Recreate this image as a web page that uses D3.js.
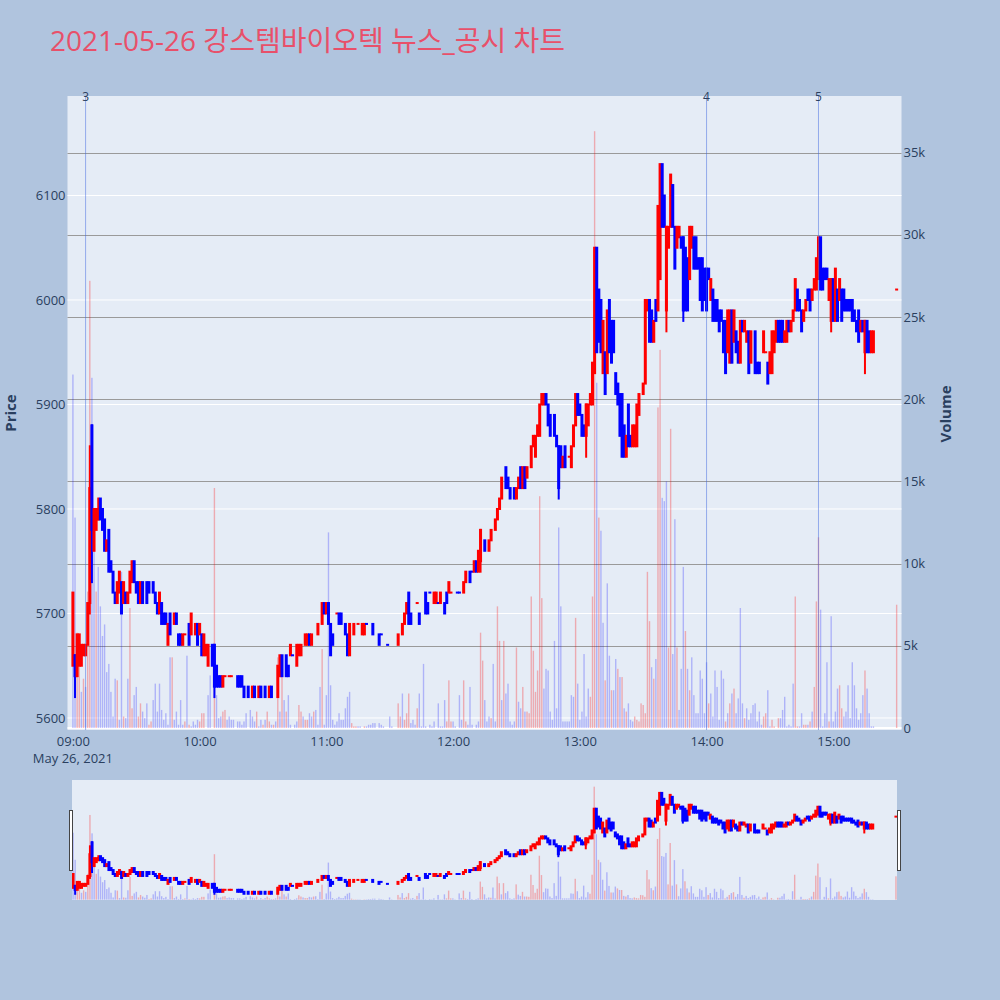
<!DOCTYPE html>
<html><head><meta charset="utf-8">
<script src="https://cdn.jsdelivr.net/npm/d3@7"></script>
<style>
html,body{margin:0;padding:0;background:#b0c4de;}
svg{display:block;font-family:"Open Sans","Noto Sans CJK KR",sans-serif;}
</style>
</head><body>
<svg id="c" width="1000" height="1000"></svg>
<script>
// ---------------- data ----------------
const chartTitle = "2021-05-26 강스템바이오텍 뉴스_공시 차트";
const tradeDate = [2021, 5, 26];
const timeTicks = ["09:00","10:00","11:00","12:00","13:00","14:00","15:00"];
const priceTicks = [5600, 5700, 5800, 5900, 6000, 6100];
const volumeTicks = [0, 5000, 10000, 15000, 20000, 25000, 30000, 35000];
// news markers: [minutes after 09:00, label]
const newsMarks = [[6, "3"], [300, "4"], [353, "5"]];
// candles: [minutes after 09:00, open, high, low, close, (colour for flat candles: 1 up / 0 down)]
const candles = [
[0,5650,5720,5650,5720],[1,5660,5660,5620,5640],[2,5640,5680,5640,5680],[3,5650,5680,5650,5680],
[4,5650,5670,5650,5670],[5,5660,5670,5660,5670],[6,5660,5670,5660,5670],[7,5670,5710,5670,5710],
[8,5710,5860,5700,5820],[9,5880,5880,5730,5780],[10,5760,5800,5760,5800],[11,5780,5800,5780,5800],
[12,5790,5810,5790,5800],[13,5810,5810,5790,5790],[14,5800,5800,5780,5780],[15,5790,5790,5760,5760],
[16,5760,5770,5760,5770],[17,5780,5780,5740,5740],[18,5750,5750,5740,5740],[19,5740,5740,5720,5720],
[20,5720,5720,5710,5710],[21,5710,5730,5710,5730],[22,5720,5740,5720,5740],[23,5730,5730,5700,5700],
[24,5710,5730,5710,5730],[25,5720,5720,5710,5710],[26,5710,5720,5710,5720],[27,5720,5740,5720,5740],
[28,5730,5750,5730,5750],[29,5750,5750,5730,5730],[30,5730,5730,5720,5720],[31,5730,5730,5710,5710],
[32,5710,5730,5710,5730],[33,5730,5730,5710,5710],[35,5730,5730,5710,5710],[36,5730,5730,5720,5720],
[38,5730,5730,5720,5720],[39,5720,5720,5710,5710],[40,5710,5710,5700,5700],[41,5700,5720,5700,5720],
[42,5710,5710,5690,5690],[43,5700,5700,5690,5690],[44,5700,5700,5690,5690],[45,5670,5690,5670,5690],
[46,5700,5700,5680,5680],[48,5690,5700,5690,5700],[49,5700,5700,5690,5690],[50,5680,5680,5670,5670],
[51,5680,5680,5670,5670],[52,5670,5680,5670,5680],[53,5680,5680,5680,5680,1],[55,5690,5690,5670,5670],
[56,5680,5700,5680,5700],[58,5680,5690,5680,5690],[59,5690,5690,5670,5670],[60,5680,5690,5680,5690],
[61,5680,5680,5660,5660],[62,5660,5680,5660,5680],[63,5660,5670,5660,5670],[64,5650,5670,5650,5670],
[66,5670,5670,5650,5650],[67,5670,5670,5620,5630],[68,5650,5650,5630,5630],[69,5640,5640,5630,5630],
[70,5640,5640,5630,5630],[71,5630,5640,5630,5640],[72,5640,5640,5640,5640,1],[74,5640,5640,5640,5640,1],
[75,5640,5640,5640,5640,1],[78,5640,5640,5630,5630],[79,5640,5640,5630,5630],[80,5640,5640,5630,5630],
[81,5630,5630,5620,5620],[83,5630,5630,5620,5620],[85,5620,5630,5620,5630],[86,5630,5630,5620,5620],
[88,5620,5630,5620,5630],[89,5630,5630,5620,5620],[91,5630,5630,5620,5620],[93,5620,5630,5620,5630],
[94,5630,5630,5620,5620],[97,5620,5650,5620,5650],[98,5640,5660,5640,5660],[99,5660,5660,5640,5640],
[101,5660,5660,5640,5640],[102,5650,5650,5640,5640],[103,5660,5670,5660,5670],[104,5660,5660,5660,5660,0],
[106,5650,5670,5650,5670],[107,5660,5670,5660,5670],[108,5660,5670,5660,5670],[110,5670,5680,5670,5680],
[111,5670,5680,5670,5680],[112,5680,5680,5670,5670],[113,5670,5680,5670,5680],[116,5680,5690,5680,5690],
[118,5690,5710,5690,5710],[119,5710,5710,5700,5700],[120,5700,5710,5700,5710],[121,5710,5710,5690,5690],
[122,5690,5690,5660,5660],[123,5680,5680,5670,5670],[125,5700,5700,5700,5700,1],[126,5700,5700,5690,5690],
[127,5700,5700,5690,5690],[129,5690,5690,5680,5680],[130,5680,5680,5660,5660],[131,5660,5690,5660,5690],
[133,5680,5690,5680,5690],[135,5690,5690,5690,5690,1],[137,5680,5690,5680,5690],[138,5680,5690,5680,5690],
[139,5690,5690,5690,5690,0],[142,5690,5690,5680,5680],[145,5680,5680,5670,5670],[146,5680,5680,5680,5680,0],
[149,5670,5670,5670,5670,0],[154,5670,5680,5670,5680],[156,5680,5690,5680,5690],[157,5690,5700,5690,5700],
[158,5700,5710,5700,5710],[159,5720,5720,5690,5690],[160,5700,5700,5690,5690],[163,5710,5710,5710,5710,1],
[164,5700,5700,5690,5690],[167,5720,5720,5700,5700],[168,5710,5710,5700,5700],[169,5720,5720,5720,5720,0],
[171,5710,5720,5710,5720],[172,5710,5720,5710,5720],[173,5710,5710,5710,5710,0],[174,5710,5720,5710,5720],
[176,5710,5710,5700,5700],[177,5720,5720,5710,5710],[178,5720,5730,5720,5730],[179,5720,5720,5720,5720,1],
[182,5720,5720,5720,5720,0],[183,5720,5720,5720,5720,0],[185,5720,5730,5720,5730],[186,5730,5740,5730,5740],
[188,5740,5740,5730,5730],[189,5740,5740,5740,5740,0],[190,5740,5750,5740,5750],[191,5750,5750,5740,5740],
[192,5740,5760,5740,5760],[193,5750,5780,5740,5780],[195,5770,5770,5760,5760],[197,5760,5770,5760,5770],
[198,5770,5780,5770,5780],[200,5780,5790,5780,5790],[201,5790,5800,5790,5800],[202,5800,5810,5800,5810],
[203,5810,5830,5810,5830],[205,5840,5840,5820,5820],[206,5830,5830,5820,5820],[207,5820,5820,5810,5810],
[209,5820,5820,5810,5810],[210,5810,5820,5810,5820],[211,5820,5830,5820,5830],[212,5840,5840,5820,5820],
[213,5820,5840,5820,5840],[214,5840,5840,5820,5820],[215,5830,5840,5830,5840],[217,5840,5860,5840,5860],
[218,5860,5870,5860,5870],[219,5850,5870,5850,5870],[220,5870,5880,5870,5880],[221,5870,5900,5870,5900],
[222,5900,5910,5900,5910],[223,5900,5910,5900,5910],[224,5910,5910,5900,5900],[225,5900,5900,5880,5880],
[226,5890,5890,5870,5870],[228,5890,5890,5870,5870],[229,5870,5870,5860,5860],[230,5860,5860,5810,5820],
[231,5860,5860,5840,5840],[232,5840,5850,5840,5850],[233,5860,5860,5840,5840],[235,5850,5850,5850,5850,1],
[236,5840,5860,5840,5860],[237,5860,5880,5860,5880],[238,5880,5910,5880,5910],[239,5910,5910,5890,5890],
[240,5900,5900,5890,5890],[241,5890,5890,5870,5870],[242,5880,5880,5870,5870],[243,5870,5900,5850,5900],
[244,5880,5900,5880,5900],[245,5900,5910,5900,5910],[246,5900,5940,5900,5940],[247,5930,6050,5930,6050],
[248,6050,6050,5950,5950],[249,6010,6010,5960,5960],[250,6000,6000,5950,5950],[251,5930,5980,5930,5980],
[252,5950,5950,5910,5910],[253,5930,5990,5930,5990],[254,6000,6000,5950,5950],[255,5980,5980,5940,5940],
[256,5980,5980,5950,5950],[257,5930,5930,5910,5910],[258,5920,5920,5900,5900],[259,5910,5910,5870,5870],
[260,5910,5910,5850,5850],[261,5880,5880,5850,5850],[262,5850,5870,5850,5870],[263,5900,5900,5860,5860],
[264,5870,5870,5860,5860],[265,5860,5880,5860,5880],[266,5860,5880,5860,5880],[267,5860,5900,5860,5900],
[268,5890,5910,5890,5910],[270,5910,5920,5910,5920],[271,5920,6000,5920,6000],[272,5990,6000,5990,6000],
[273,6000,6000,5960,5960],[274,5990,5990,5960,5960],[275,5960,5980,5960,5980],[276,6000,6000,5980,5980],
[277,5990,6090,5990,6090],[278,6020,6130,6020,6130],[279,6130,6130,6070,6070],[280,6100,6100,6070,6070],
[281,5990,6070,5970,6070],[282,6050,6070,6050,6070],[283,6070,6120,6070,6120],[284,6110,6110,6070,6070],
[285,6070,6070,6030,6030],[286,6050,6070,6050,6070],[287,6060,6070,6060,6070],[288,6060,6060,6050,6050],
[289,6060,6060,5980,5990],[290,6050,6050,5990,5990],[291,6040,6040,5990,5990],[292,6020,6070,6020,6070],
[293,6050,6070,6050,6070],[294,6060,6060,6030,6030],[295,6060,6060,6030,6030],[296,6040,6040,6030,6030],
[297,6040,6040,6000,6000],[298,6040,6040,5990,5990],[299,6030,6030,6000,6000],[300,6030,6030,5990,5990],
[301,6030,6030,6020,6020],[302,6000,6020,6000,6020],[303,6010,6010,5980,5980],[304,6000,6000,5980,5980],
[305,6000,6000,5980,5980],[306,5990,5990,5970,5970],[307,5990,5990,5980,5980],[308,5980,5980,5950,5950],
[309,5980,5980,5930,5930],[310,5950,5990,5950,5990],[311,5940,5990,5940,5990],[312,5990,5990,5940,5940],
[313,5960,5990,5960,5990],[314,5970,5970,5950,5950],[315,5960,5960,5940,5940],[316,5940,5980,5940,5980],
[317,5980,5980,5970,5970],[318,5970,5980,5970,5980],[319,5960,5970,5960,5970],[320,5970,5970,5930,5930],
[321,5940,5970,5940,5970],[323,5970,5970,5930,5930],[324,5940,5940,5930,5930],[325,5940,5940,5930,5930],
[327,5950,5970,5950,5970],[328,5950,5950,5950,5950,1],[329,5940,5940,5920,5920],[330,5930,5950,5930,5950],
[331,5930,5970,5930,5970],[332,5950,5970,5950,5970],[333,5960,5980,5960,5980],[334,5980,5980,5960,5960],
[335,5980,5980,5960,5960],[336,5980,5980,5960,5960],[337,5960,5970,5960,5970],[338,5960,5980,5960,5980],
[339,5980,5980,5970,5970],[340,5970,5980,5970,5980],[341,5980,5990,5980,5990],[342,5990,6020,5990,6020],
[343,6010,6010,5990,5990],[344,6000,6000,5990,5990],[345,5990,5990,5970,5970],[346,5980,5990,5980,5990],
[347,5990,6000,5990,6000],[348,6010,6010,6000,6000],[349,6010,6010,5990,5990],[350,6000,6010,6000,6010],
[351,6010,6020,6010,6020],[352,6010,6040,6010,6040],[353,6020,6060,6020,6060],[354,6060,6060,6010,6010],
[355,6030,6030,6010,6010],[356,6030,6030,6020,6020],[357,6030,6030,6020,6020],[358,6000,6020,6000,6020],
[359,5980,6020,5970,6020],[360,6020,6020,5980,5980],[361,5980,6030,5980,6030],[362,6010,6010,5980,5980],
[363,6000,6020,6000,6020],[364,6010,6010,5980,5980],[365,6010,6010,5990,5990],[366,6000,6000,5990,5990],
[367,6000,6000,5990,5990],[368,6000,6000,5990,5990],[369,6000,6000,5980,5980],[370,5990,5990,5980,5980],
[371,5980,5980,5970,5970],[372,5990,5990,5960,5960],[373,5970,5980,5970,5980],[374,5980,5980,5970,5970],
[375,5950,5980,5930,5980],[376,5980,5980,5950,5950],[377,5970,5970,5950,5950],[378,5950,5970,5950,5970],
[379,5950,5970,5950,5970],[390,6010,6010,6010,6010,1]
];
// volumes: [minutes after 09:00, shares, 1 up / 0 down]
const volumes = [
[0,21500,0],[1,12800,0],[2,5800,1],[3,5600,1],[4,2200,0],[5,3000,1],[6,2500,0],[7,8300,1],[8,27200,1],
[9,21300,0],[10,11000,0],[11,8300,1],[12,9800,0],[13,7400,0],[14,5600,0],[15,6300,0],[16,3400,0],
[17,3900,0],[18,2200,0],[19,700,0],[20,3000,0],[21,2900,1],[22,500,0],[23,9500,0],[24,700,1],
[25,600,0],[26,3000,0],[27,7300,1],[28,1200,1],[29,2000,0],[30,2500,0],[31,700,1],[32,1500,1],
[33,1000,0],[34,600,0],[35,1500,0],[36,200,1],[37,400,1],[38,1700,0],[39,2700,0],[40,1000,0],
[41,2700,0],[42,1100,0],[43,500,0],[44,900,0],[45,200,0],[46,4300,0],[47,4300,1],[48,500,0],
[49,1000,0],[50,200,0],[51,1700,0],[52,200,0],[53,400,1],[54,4400,0],[55,200,1],[56,100,0],
[57,400,0],[58,200,0],[59,500,0],[60,400,1],[61,900,1],[62,900,1],[64,2000,0],[65,3200,0],
[67,14600,1],[68,2000,0],[69,600,0],[70,700,0],[71,1000,1],[72,1100,1],[73,500,0],[74,700,0],
[75,500,0],[76,500,0],[78,400,0],[79,400,0],[80,200,0],[81,400,0],[82,900,0],[84,1100,0],
[85,700,0],[86,400,0],[87,1000,1],[88,100,0],[89,500,0],[90,200,1],[91,500,0],[92,1000,1],
[93,400,1],[94,200,0],[95,200,1],[96,400,0],[97,4300,1],[98,1000,0],[99,4300,1],[100,1700,0],
[101,1000,1],[102,2000,0],[103,200,0],[105,200,0],[106,400,0],[107,1400,1],[108,1000,1],[109,700,0],
[110,500,1],[111,500,1],[112,900,0],[113,700,0],[114,1000,1],[115,1100,0],[116,200,0],[117,2500,0],
[118,4800,1],[119,200,0],[120,2000,0],[121,11900,0],[122,2600,0],[123,500,0],[124,200,0],[125,400,0],
[126,900,0],[127,500,0],[128,500,0],[129,1200,0],[130,1900,0],[131,2200,0],[132,300,1],[133,100,1],
[134,100,1],[135,100,0],[136,100,0],[138,100,1],[139,100,0],[140,200,0],[141,200,0],[142,300,0],
[143,300,0],[145,300,0],[146,200,0],[147,100,0],[150,700,0],[151,100,0],[154,1500,1],[155,700,1],
[156,2100,0],[157,500,1],[158,900,1],[159,2100,1],[160,300,0],[161,500,0],[162,200,0],[163,1200,1],
[164,2100,0],[165,100,0],[166,3900,0],[167,100,0],[169,200,0],[170,100,0],[171,400,0],[173,1500,0],
[174,100,0],[175,100,0],[176,1700,0],[177,400,1],[178,2900,1],[179,400,1],[180,400,0],[181,100,0],
[183,2000,0],[184,500,0],[185,2900,1],[186,400,1],[187,200,0],[188,2500,0],[189,200,0],[191,200,0],
[192,400,0],[193,5800,1],[194,4100,1],[195,1700,0],[196,400,0],[197,700,0],[198,600,1],[199,3900,0],
[200,400,0],[201,7400,1],[202,5300,1],[203,1700,0],[204,5300,1],[205,2100,0],[206,2700,0],[207,400,0],
[208,200,0],[209,400,0],[210,4900,1],[211,1600,0],[212,1200,0],[213,2500,1],[214,1000,0],[215,1000,1],
[216,900,1],[217,8000,1],[218,4700,1],[219,2200,1],[220,3500,1],[221,14100,1],[222,7900,1],[223,2400,0],
[224,3600,0],[225,3500,0],[226,1000,0],[227,500,0],[228,5300,0],[229,1200,0],[230,12200,0],[231,7400,0],
[232,400,0],[233,400,0],[234,400,0],[235,400,0],[236,2000,0],[237,1900,0],[238,6700,1],[239,2700,0],
[240,500,0],[241,1000,0],[242,4500,0],[243,700,0],[244,2400,0],[245,1900,1],[246,8000,1],[247,36300,1],
[248,21000,0],[249,12800,1],[250,12000,0],[251,6400,0],[252,2900,1],[253,8800,0],[254,4400,0],[255,2300,1],
[256,2300,0],[257,4200,0],[258,3600,1],[259,3100,0],[260,3100,1],[261,1200,0],[262,1000,1],[263,1500,0],
[264,500,0],[265,400,0],[266,700,1],[267,500,1],[268,400,1],[269,1500,1],[270,1400,1],[271,900,1],
[272,9500,1],[273,6500,1],[274,3700,0],[275,3000,1],[276,4200,0],[277,19500,1],[278,23000,1],[279,14000,0],
[280,13800,0],[281,15000,0],[282,4900,1],[283,18200,1],[284,4500,0],[285,12700,0],[286,4900,1],[287,1100,0],
[288,3600,0],[289,9800,0],[290,5900,1],[291,3600,0],[292,2300,1],[293,4300,0],[294,2000,0],[295,900,0],
[296,900,0],[297,3500,0],[298,3000,0],[299,900,0],[300,4000,0],[301,1500,1],[302,2100,0],[303,700,0],
[304,3500,0],[305,2500,0],[306,500,0],[307,3500,0],[308,3000,0],[309,400,1],[310,900,0],[311,1500,1],
[312,2100,0],[313,2400,1],[314,900,0],[315,1800,0],[316,7300,0],[317,1500,0],[318,600,1],[319,1200,0],
[320,500,0],[321,900,0],[322,1400,0],[323,1500,0],[324,400,0],[325,1000,0],[326,200,0],[327,700,1],
[328,900,1],[329,2300,0],[330,100,0],[331,500,1],[332,100,1],[334,600,1],[335,600,0],[336,1100,0],
[337,1900,0],[338,100,0],[339,200,0],[340,100,0],[341,2700,0],[342,8000,1],[343,100,1],[344,100,0],
[345,900,0],[346,200,1],[347,200,1],[348,200,0],[349,400,1],[350,1000,0],[351,2500,1],[352,7700,1],
[353,11600,1],[354,7200,0],[355,100,0],[356,900,0],[357,4000,0],[358,400,1],[359,6800,0],[360,400,0],
[361,1000,0],[362,2400,0],[363,2600,1],[364,1200,1],[365,700,0],[366,1000,0],[367,2600,0],[368,600,0],
[369,4000,0],[370,2600,0],[371,1200,0],[372,500,0],[373,900,0],[374,2000,0],[375,3500,1],[376,2400,0],
[377,900,0],[378,100,0],[379,100,0],[390,7500,1]
];

// ---------------- layout ----------------
const UP = "#ff0000", DOWN = "#0000ff";
const TXT = "#2a3f5f";
const plot = {l: 67.5, r: 901.5, t: 96, b: 730};
const slide = {l: 72, r: 897, t: 780, b: 900};
const t0 = new Date(tradeDate[0], tradeDate[1] - 1, tradeDate[2], 9, 0);
const at = m => new Date(+t0 + m * 60000);
const tick = s => { const [h, mi] = s.split(":").map(Number); return new Date(tradeDate[0], tradeDate[1]-1, tradeDate[2], h, mi); };

const x = d3.scaleTime().domain([at(-2.56), at(392.3)]).range([plot.l, plot.r]);
const yP = d3.scaleLinear().domain([5588.5, 6195.2]).range([plot.b, plot.t]);
const yV = d3.scaleLinear().domain([-120, 38440]).range([plot.b, plot.t]);
const xs = d3.scaleTime().domain([at(-0.5), at(390.5)]).range([slide.l, slide.r]);
const ysP = d3.scaleLinear().domain([5588.5, 6195.2]).range([slide.b, slide.t]);
const ysV = d3.scaleLinear().domain([-120, 38440]).range([slide.b, slide.t]);

const svg = d3.select("#c");
svg.append("rect").attr("width", 1000).attr("height", 1000).attr("fill", "#b0c4de");

// title
svg.append("text").attr("x", 50).attr("y", 51).attr("fill", "#e8506a")
  .style("font-size", "28px").text(chartTitle);

const defs = svg.append("defs");
defs.append("clipPath").attr("id", "cp").append("rect")
  .attr("x", plot.l).attr("y", plot.t).attr("width", plot.r - plot.l).attr("height", plot.b - plot.t);
defs.append("clipPath").attr("id", "cs").append("rect")
  .attr("x", slide.l).attr("y", slide.t).attr("width", slide.r - slide.l).attr("height", slide.b - slide.t);

// main plot background + grids
svg.append("rect").attr("x", plot.l).attr("y", plot.t).attr("width", plot.r - plot.l)
  .attr("height", plot.b - plot.t).attr("fill", "#e5ecf6");
const grid = svg.append("g");
grid.selectAll(".gp").data(priceTicks).join("line")
  .attr("x1", plot.l).attr("x2", plot.r).attr("y1", d => yP(d)).attr("y2", d => yP(d))
  .attr("stroke", "#ffffff").attr("stroke-width", 1);
grid.selectAll(".gv").data(volumeTicks.filter(d => d > 0)).join("line")
  .attr("x1", plot.l).attr("x2", plot.r).attr("y1", d => Math.round(yV(d)) + 0.5).attr("y2", d => Math.round(yV(d)) + 0.5)
  .attr("stroke", "#9a9a9a").attr("stroke-width", 1);
grid.append("line").attr("x1", plot.l).attr("x2", plot.r).attr("y1", yV(0)).attr("y2", yV(0))
  .attr("stroke", "#ffffff").attr("stroke-width", 2);

function drawVolume(g, xsc, ysc, w) {
  g.selectAll("rect.v").data(volumes).join("rect").attr("class", "v")
    .attr("x", d => xsc(at(d[0])) - w / 2).attr("width", w)
    .attr("y", d => ysc(d[1])).attr("height", d => Math.max(0, ysc(0) - ysc(d[1])))
    .attr("fill", d => d[2] ? "rgba(255,0,0,0.28)" : "rgba(0,0,255,0.24)");
}
function drawCandles(g, xsc, ysc, bodyW, wickW) {
  let prevUp = true;
  candles.forEach(r => {
    const [m, o, h, l, c, flat] = r;
    const up = c > o ? true : c < o ? false : (flat !== undefined ? flat === 1 : prevUp);
    prevUp = up;
    const col = up ? UP : DOWN;
    const cx = xsc(at(m));
    const yTop = ysc(Math.max(o, c)), yBot = ysc(Math.min(o, c));
    if (h > Math.max(o, c) || l < Math.min(o, c)) {
      g.append("rect").attr("x", cx - wickW / 2).attr("width", wickW)
        .attr("y", ysc(h) - 1).attr("height", ysc(l) - ysc(h) + 2).attr("fill", col);
    }
    g.append("rect").attr("x", cx - bodyW / 2).attr("width", bodyW)
      .attr("y", yTop - 1).attr("height", yBot - yTop + 2).attr("fill", col);
  });
}

const main = svg.append("g").attr("clip-path", "url(#cp)");
drawVolume(main.append("g"), x, yV, 1.4);
drawCandles(main.append("g"), x, yP, 3, 2);

// news markers
const news = svg.append("g");
news.selectAll("line").data(newsMarks).join("line")
  .attr("x1", d => x(at(d[0]))).attr("x2", d => x(at(d[0])))
  .attr("y1", plot.t).attr("y2", plot.b)
  .attr("stroke", "rgba(65,105,225,0.5)").attr("stroke-width", 1);
news.selectAll("text").data(newsMarks).join("text")
  .attr("x", d => x(at(d[0]))).attr("y", plot.t + 5).attr("text-anchor", "middle")
  .attr("fill", TXT).style("font-size", "12px").text(d => d[1]);

// axes
const ax = svg.append("g").attr("transform", `translate(0,${plot.b})`)
  .call(d3.axisBottom(x).tickValues(timeTicks.map(tick)).tickFormat(d3.timeFormat("%H:%M")).tickSize(0).tickPadding(7));
const ayl = svg.append("g").attr("transform", `translate(${plot.l},0)`)
  .call(d3.axisLeft(yP).tickValues(priceTicks).tickFormat(d3.format("d")).tickSize(0).tickPadding(2));
const ayr = svg.append("g").attr("transform", `translate(${plot.r},0)`)
  .call(d3.axisRight(yV).tickValues(volumeTicks).tickFormat(d => d === 0 ? "0" : (d / 1000) + "k").tickSize(0).tickPadding(2));
[ax, ayl, ayr].forEach(a => {
  a.select(".domain").remove();
  a.selectAll("text").attr("fill", TXT).style("font-size", "13px").style("font-family", '"Open Sans",sans-serif');
});
svg.append("text").attr("x", x(t0)).attr("y", 763).attr("text-anchor", "middle").attr("fill", TXT)
  .style("font-size", "13px").text(d3.timeFormat("%b %-d, %Y")(t0));
svg.append("text").attr("transform", "translate(16,413) rotate(-90)").attr("text-anchor", "middle")
  .attr("fill", TXT).style("font-size", "15px").style("font-weight", "bold").text("Price");
svg.append("text").attr("transform", "translate(951,414) rotate(-90)").attr("text-anchor", "middle")
  .attr("fill", TXT).style("font-size", "15px").style("font-weight", "bold").text("Volume");

// range slider
svg.append("rect").attr("x", slide.l).attr("y", slide.t).attr("width", slide.r - slide.l)
  .attr("height", slide.b - slide.t).attr("fill", "#e5ecf6");
const sl = svg.append("g").attr("clip-path", "url(#cs)");
drawVolume(sl.append("g"), xs, ysV, 1.4);
drawCandles(sl.append("g"), xs, ysP, 3, 2);
[[slide.l - 2.5], [slide.r + 0.5]].forEach(([hx]) => {
  svg.append("rect").attr("x", hx).attr("y", slide.t + 30.5).attr("width", 3).attr("height", 60)
    .attr("fill", "#ffffff").attr("stroke", "#444").attr("stroke-width", 1);
});
</script>
</body></html>
